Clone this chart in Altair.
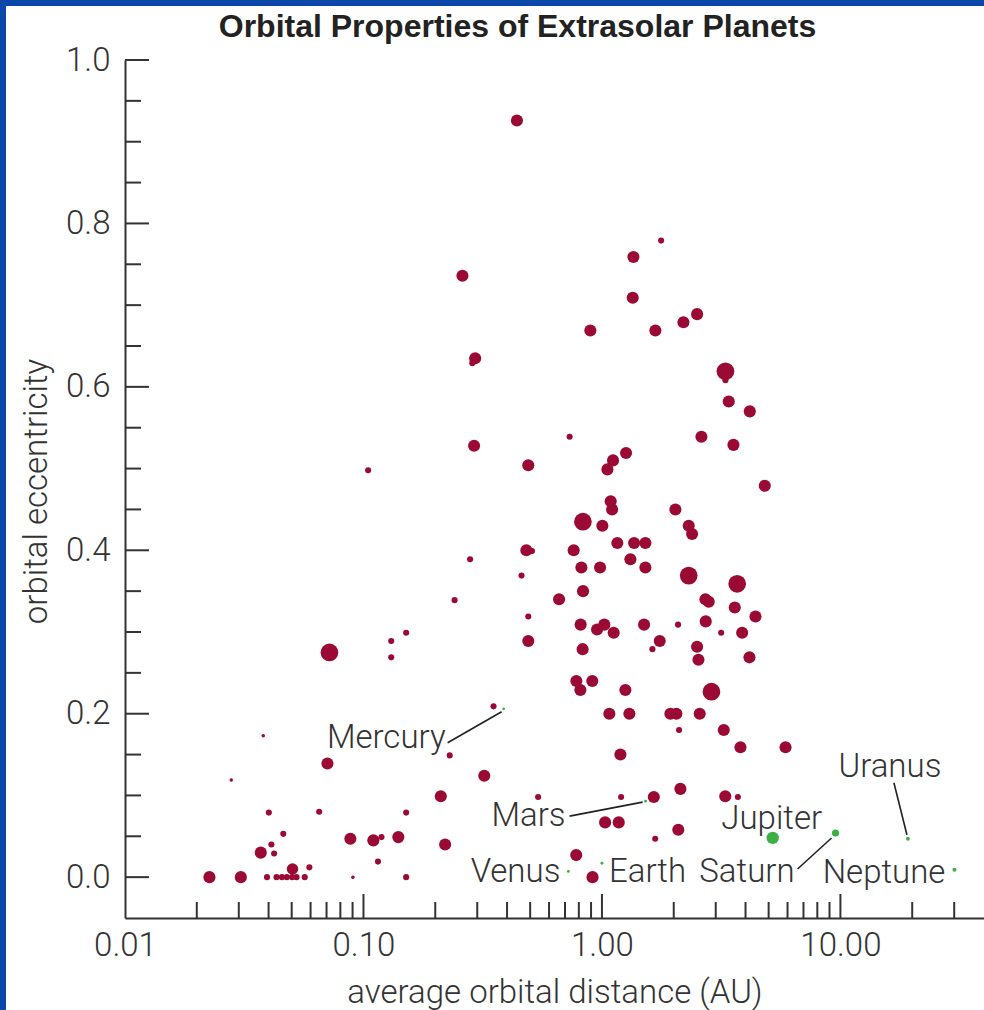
import altair as alt
import pandas as pd

# ---- Extrasolar planets: semi-major axis (AU), eccentricity, mass (Jupiter masses, estimated)
exo_a = [
    0.440, 1.770, 1.355, 0.260, 1.346, 0.894, 1.675, 2.196, 2.506, 0.294,
    0.286, 3.295, 3.295, 3.402, 4.168, 2.613, 3.560, 0.732, 0.291, 0.491,
    1.262, 1.113, 1.054, 4.817, 1.088, 1.103, 2.032, 0.832, 1.004, 2.311,
    2.388, 0.482, 0.509, 0.761, 1.160, 1.364, 1.521, 1.316, 1.521, 0.820,
    0.982, 0.280, 0.460, 2.311, 3.690, 0.833, 0.661, 2.716, 2.804, 3.605,
    4.403, 0.491, 0.814, 0.954, 1.023, 1.120, 1.502, 2.085, 2.724, 3.161,
    3.872, 0.491, 1.747, 1.628, 0.830, 2.506, 2.539, 4.155, 0.781, 0.812,
    0.911, 1.254, 2.878, 1.074, 1.303, 1.936, 2.052, 2.570, 2.106, 3.242,
    3.809, 5.886, 1.195, 0.351, 0.230, 0.321, 0.540, 1.203, 1.650, 2.133,
    3.289, 3.715, 1.031, 1.176, 2.090, 1.672, 0.780, 0.913, 0.220, 0.211,
    0.151, 0.151, 0.140, 0.110, 0.119, 0.115, 0.0881, 0.0903, 0.0652, 0.0706,
    0.0720, 0.0380, 0.0279, 0.0401, 0.0461, 0.0371, 0.0411, 0.0422, 0.0504, 0.0593,
    0.0226, 0.0306, 0.0394, 0.0432, 0.0455, 0.0477, 0.0502, 0.0524, 0.0567, 0.1046,
    0.241, 0.1307, 0.151, 0.1307,
]
exo_e = [
    0.926, 0.779, 0.759, 0.736, 0.709, 0.669, 0.669, 0.679, 0.689, 0.635,
    0.629, 0.619, 0.608, 0.582, 0.570, 0.539, 0.529, 0.539, 0.528, 0.504,
    0.519, 0.510, 0.499, 0.479, 0.460, 0.450, 0.450, 0.435, 0.430, 0.430,
    0.420, 0.400, 0.399, 0.400, 0.409, 0.409, 0.409, 0.389, 0.379, 0.379,
    0.379, 0.389, 0.369, 0.369, 0.359, 0.350, 0.340, 0.340, 0.337, 0.330,
    0.319, 0.319, 0.309, 0.303, 0.309, 0.299, 0.309, 0.309, 0.313, 0.299,
    0.299, 0.289, 0.289, 0.279, 0.279, 0.282, 0.266, 0.269, 0.240, 0.229,
    0.240, 0.229, 0.227, 0.200, 0.200, 0.200, 0.200, 0.200, 0.180, 0.180,
    0.159, 0.159, 0.150, 0.209, 0.149, 0.124, 0.098, 0.098, 0.098, 0.108,
    0.099, 0.098, 0.067, 0.067, 0.058, 0.047, 0.027, 0.000, 0.040, 0.099,
    0.079, 0.000, 0.049, 0.045, 0.049, 0.019, 0.047, 0.000, 0.080, 0.139,
    0.275, 0.173, 0.119, 0.079, 0.053, 0.030, 0.040, 0.029, 0.010, 0.012,
    0.000, 0.000, 0.000, 0.000, 0.000, 0.000, 0.000, 0.000, 0.000, 0.498,
    0.339, 0.289, 0.299, 0.269,
]
exo_mass = [
    0.95, 0.20, 0.95, 0.95, 0.95, 0.95, 0.95, 0.95, 0.95, 0.95,
    0.20, 2.10, 0.20, 0.95, 0.95, 0.95, 0.95, 0.20, 0.95, 0.95,
    0.95, 0.95, 0.95, 0.95, 0.95, 0.95, 0.95, 2.10, 0.95, 0.95,
    0.95, 0.95, 0.20, 0.95, 0.95, 0.95, 0.95, 0.95, 0.95, 0.95,
    0.95, 0.20, 0.20, 2.10, 2.10, 0.95, 0.95, 0.95, 0.95, 0.95,
    0.95, 0.20, 0.95, 0.95, 0.95, 0.95, 0.95, 0.20, 0.95, 0.20,
    0.95, 0.95, 0.95, 0.20, 0.95, 0.95, 0.95, 0.95, 0.95, 0.95,
    0.95, 0.95, 2.10, 0.95, 0.95, 0.95, 0.95, 0.95, 0.20, 0.95,
    0.95, 0.95, 0.95, 0.20, 0.20, 0.95, 0.20, 0.20, 0.95, 0.95,
    0.95, 0.20, 0.95, 0.95, 0.95, 0.20, 0.95, 0.95, 0.95, 0.95,
    0.20, 0.20, 0.95, 0.95, 0.20, 0.20, 0.95, 0.03, 0.20, 0.95,
    2.10, 0.03, 0.03, 0.20, 0.20, 0.95, 0.20, 0.20, 0.85, 0.20,
    0.95, 0.95, 0.20, 0.20, 0.20, 0.20, 0.20, 0.20, 0.20, 0.20,
    0.20, 0.20, 0.20, 0.20,
]

# ---- Solar-system planets
planet_names = ["Mercury", "Venus", "Earth", "Mars", "Jupiter", "Saturn", "Uranus", "Neptune"]
planet_a = [0.387, 0.723, 1.000, 1.524, 5.20, 9.54, 19.19, 30.07]
planet_e = [0.206, 0.007, 0.017, 0.093, 0.048, 0.054, 0.047, 0.009]
planet_mass = [0.00017, 0.00256, 0.00315, 0.00034, 1.0, 0.299, 0.0457, 0.054]

# ---- Axis labels and tick positions
x_label_values = [0.01, 0.1, 1, 10]
x_major_ticks = [0.1, 1, 10]
x_minor_ticks = [0.02, 0.03, 0.04, 0.05, 0.06, 0.07, 0.08, 0.09,
                 0.2, 0.3, 0.4, 0.5, 0.6, 0.7, 0.8, 0.9,
                 2, 3, 4, 5, 6, 7, 8, 9, 20, 30]
y_label_values = [0.0, 0.2, 0.4, 0.6, 0.8, 1.0]
y_minor_ticks = [0.05, 0.1, 0.15, 0.25, 0.3, 0.35, 0.45, 0.5, 0.55,
                 0.65, 0.7, 0.75, 0.85, 0.9, 0.95]

TITLE = "Orbital Properties of Extrasolar Planets"

FONT = "Roboto"
FW = 300
FS = 33
TITLE_FONT = "Liberation Sans"
TEXT = "#333333"
INK = "#333333"
EXO = "#9b0a35"
SOLAR = "#3cb043"
FRAME = "#0a47a8"

W, H = 859, 858

exo = pd.DataFrame({"a": exo_a, "e": exo_e, "mass": exo_mass})
solar = pd.DataFrame({"name": planet_names, "a": planet_a, "e": planet_e, "mass": planet_mass})

xscale = alt.Scale(type="log", domain=[0.01, 40], nice=False)
yscale = alt.Scale(domain=[-0.05, 1.0], nice=False, zero=False)
sscale = alt.Scale(domain=[0, 2.1], range=[8, 314])

x_axis = alt.Axis(
    values=x_label_values, format=".2f", ticks=False, tickSize=0, grid=False,
    domainColor=INK, domainWidth=2, labelFlush=False, labelOverlap=False,
    labelFont=FONT, labelFontWeight=FW, labelFontSize=FS, labelColor=TEXT, labelPadding=11,
    title="average orbital distance (AU)", titleFont=FONT, titleFontSize=FS,
    titleFontWeight=FW, titleColor=TEXT, titleX=W / 2, titleY=84,
    titleAlign="center", titleBaseline="alphabetic", zindex=1,
)
y_axis = alt.Axis(
    values=y_label_values, format=".1f", ticks=False, tickSize=0, grid=False,
    domainColor=INK, domainWidth=2, labelFlush=False, labelOverlap=False,
    labelFont=FONT, labelFontWeight=FW, labelFontSize=FS, labelColor=TEXT, labelPadding=15,
    title="orbital eccentricity", titleFont=FONT, titleFontSize=FS,
    titleFontWeight=FW, titleColor=TEXT, titleX=-79, titleY=H / 2 + 2,
    titleAngle=270, titleAlign="center", titleBaseline="alphabetic", zindex=1,
)


def X(field):
    return alt.X(field, scale=xscale, axis=x_axis)


def Y(field):
    return alt.Y(field, scale=yscale, axis=y_axis)


exo_layer = alt.Chart(exo).mark_circle(color=EXO, opacity=1).encode(
    x=X("a:Q"), y=Y("e:Q"),
    size=alt.Size("mass:Q", scale=sscale, legend=None),
)

solar_layer = alt.Chart(solar).mark_circle(color=SOLAR, opacity=1).encode(
    x=X("a:Q"), y=Y("e:Q"),
    size=alt.Size("mass:Q", scale=sscale, legend=None),
)


# tick marks drawn inward from both axis lines
def y_ticks(values, length):
    return alt.Chart(pd.DataFrame({"e": values})).mark_rule(color=INK, strokeWidth=2).encode(
        y=Y("e:Q"), x=alt.value(0), x2=alt.value(length))


def x_ticks(values, length):
    return alt.Chart(pd.DataFrame({"a": values})).mark_rule(color=INK, strokeWidth=2).encode(
        x=X("a:Q"), y=alt.value(H), y2=alt.value(H - length))


tick_layers = [y_ticks(y_label_values, 24), y_ticks(y_minor_ticks, 16),
               x_ticks(x_major_ticks, 24), x_ticks(x_minor_ticks, 16)]

# planet name labels: (align, dx, dy) relative to each planet
label_style = {
    "Mercury": ("right", -58, 39),
    "Venus": ("right", -8, 11),
    "Earth": ("left", 7, 19),
    "Mars": ("right", -80, 25),
    "Jupiter": ("center", -1, -9),
    "Saturn": ("right", -41, 49),
    "Uranus": ("center", -18, -62),
    "Neptune": ("right", -9, 13),
}
label_layers = []
for name, (align, dx, dy) in label_style.items():
    label_layers.append(
        alt.Chart(solar[solar["name"] == name]).mark_text(
            font=FONT, fontWeight=FW, fontSize=FS, color=TEXT, align=align,
            baseline="alphabetic", dx=dx, dy=dy
        ).encode(x=X("a:Q"), y=Y("e:Q"), text="name:N")
    )

# leader lines from a planet toward its label: (start dx, start dy, end dx, end dy)
leader_style = {
    "Mercury": (-2, 3, -56, 34),
    "Mars": (-3, 1, -76, 15),
    "Saturn": (-4, 5, -38, 36),
    "Uranus": (-1, -4, -14, -56),
}
leader_layers = []
for name, (sx, sy, ex, ey) in leader_style.items():
    leader_layers.append(
        alt.Chart(solar[solar["name"] == name]).mark_rule(
            color="#222222", strokeWidth=1.6, xOffset=sx, yOffset=sy, x2Offset=ex, y2Offset=ey
        ).encode(x=X("a:Q"), y=Y("e:Q"), x2="a:Q", y2="e:Q")
    )

# chart heading, centred over the figure
one = pd.DataFrame({"t": [TITLE]})
heading = alt.Chart(one).mark_text(
    font=TITLE_FONT, fontSize=32, fontWeight="bold", color="#222222",
    align="center", baseline="alphabetic",
).encode(x=alt.value(392.5), y=alt.value(-23), text="t:N")

# blue frame along the top and left edges of the page
frame_left = alt.Chart(one).mark_rect(color=FRAME).encode(
    x=alt.value(-125), x2=alt.value(-119), y=alt.value(-60), y2=alt.value(H + 92))
frame_top = alt.Chart(one).mark_rect(color=FRAME).encode(
    x=alt.value(-125), x2=alt.value(W), y=alt.value(-60), y2=alt.value(-54))

chart = alt.layer(
    exo_layer, solar_layer, *tick_layers, *leader_layers, *label_layers,
    heading, frame_left, frame_top
).properties(
    width=W, height=H,
    padding={"left": 125, "top": 60, "right": 0, "bottom": 92},
    autosize=alt.AutoSizeParams(type="none"),
    background="white",
).configure_view(stroke=None)

chart.save("out.html", embed_options={"renderer": "svg", "actions": False})
